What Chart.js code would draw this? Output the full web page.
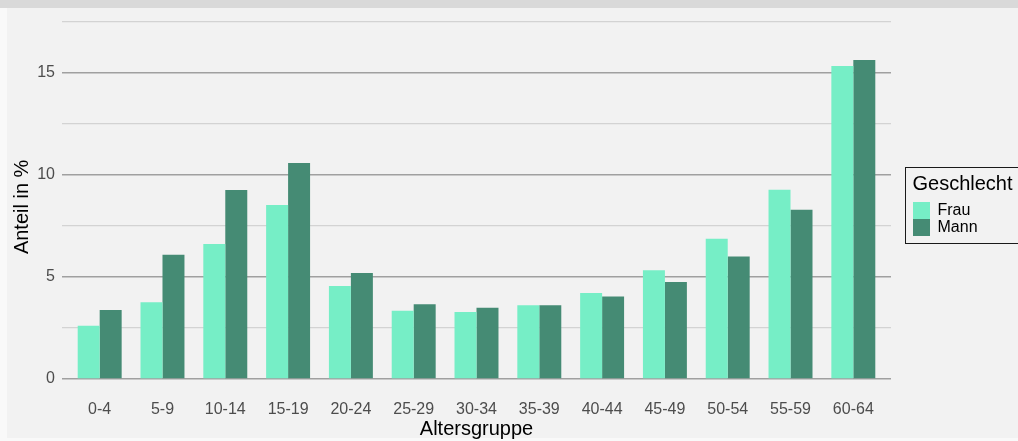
<!DOCTYPE html>
<html>
<head>
<meta charset="utf-8">
<script src="https://cdn.jsdelivr.net/npm/chart.js@4"></script>
<style>
  html, body { margin: 0; padding: 0; width: 1018px; height: 441px; overflow: hidden; background: #f9f9f9; font-family: "Liberation Sans", Arial, sans-serif; }
  #topBand { position: absolute; left: 0; top: 0; width: 1018px; height: 8px; background: #d9d9d9; }
  #panel { position: absolute; left: 7px; top: 8px; width: 1011px; height: 430px; background: #f2f2f2; }
  #wrap { position: absolute; left: 0; top: 0; width: 1018px; height: 441px; }
  #legend { position: absolute; left: 905px; top: 167px; width: 200px; height: 77px; box-sizing: border-box; border: 1.5px solid #1a1a1a; }
  .lg { position: absolute; white-space: nowrap; color: #000; }
  .key { position: absolute; width: 17px; height: 17px; }
</style>
</head>
<body>
<div id="topBand"></div>
<div id="panel"></div>
<div id="wrap"><canvas id="chart" width="1018" height="441"></canvas></div>
<div id="legend"></div>
<script>
// Altersgruppen und Anteile (%) je Geschlecht
const ageGroups = ['0-4', '5-9', '10-14', '15-19', '20-24', '25-29', '30-34', '35-39', '40-44', '45-49', '50-54', '55-59', '60-64'];
const frau = [2.61, 3.76, 6.62, 8.53, 4.56, 3.34, 3.28, 3.62, 4.22, 5.33, 6.88, 9.28, 15.34];
const mann = [3.38, 6.09, 9.26, 10.59, 5.2, 3.67, 3.49, 3.61, 4.04, 4.76, 6.01, 8.3, 15.64];
const yTicks = [0, 2.5, 5, 7.5, 10, 12.5, 15, 17.5];
const seriesNames = ['Frau', 'Mann'];
const seriesColors = ['#76eec6', '#458b74'];

const FONT = '"Liberation Sans", Arial, sans-serif';

const toPoints = arr => arr.map((v, i) => ({ x: i, y: v }));

new Chart(document.getElementById('chart'), {
  type: 'bar',
  data: {
    datasets: [
      { label: seriesNames[0], data: toPoints(frau), backgroundColor: seriesColors[0] },
      { label: seriesNames[1], data: toPoints(mann), backgroundColor: seriesColors[1] }
    ]
  },
  options: {
    responsive: false,
    animation: false,
    events: [],
    layout: { padding: { top: 16.9, left: 0, right: 127, bottom: 0 } },
    datasets: { bar: { categoryPercentage: 0.7, barPercentage: 1, borderWidth: 0 } },
    plugins: { legend: { display: false }, tooltip: { enabled: false } },
    scales: {
      x: {
        type: 'linear',
        offset: false,
        min: -0.6,
        max: 12.6,
        afterBuildTicks: s => { s.ticks = ageGroups.map((_, i) => ({ value: i })); },
        afterFit: s => { s.height = 441 - 396.85; },
        grid: { display: false, drawTicks: false, offset: false },
        border: { display: false },
        ticks: {
          autoSkip: false,
          maxRotation: 0,
          padding: 3,
          color: '#4d4d4d',
          font: { family: FONT, size: 16 },
          callback: v => ageGroups[v]
        },
        title: {
          display: true,
          text: 'Altersgruppe',
          color: '#000',
          font: { family: FONT, size: 20, lineHeight: 1.2 },
          padding: { top: 0, bottom: 0 }
        }
      },
      y: {
        min: -0.875,
        max: 17.75,
        afterBuildTicks: s => { s.ticks = yTicks.map(v => ({ value: v })); },
        afterFit: s => { s.width = 62; },
        grid: {
          drawTicks: false,
          color: c => (c.tick && c.tick.value % 5 === 0) ? '#a0a0a0' : '#d3d3d3',
          lineWidth: c => (c.tick && c.tick.value % 5 === 0) ? 1.6 : 1.2
        },
        border: { display: false },
        ticks: {
          padding: 7,
          color: '#4d4d4d',
          font: { family: FONT, size: 16 },
          callback: v => (v % 5 === 0 ? v : '')
        },
        title: {
          display: true,
          text: 'Anteil in %',
          color: '#000',
          font: { family: FONT, size: 20, lineHeight: 1.2 },
          padding: { top: 10, bottom: 0 }
        }
      }
    }
  }
});

// Legende
const legend = document.getElementById('legend');
const title = document.createElement('span');
title.className = 'lg';
title.textContent = 'Geschlecht';
title.style.cssText = 'left:6.5px;top:5.3px;font-size:20px;line-height:20px;';
legend.appendChild(title);
seriesNames.forEach((name, i) => {
  const key = document.createElement('div');
  key.className = 'key';
  key.style.cssText = `left:6.5px;top:${33.5 + i * 17.5}px;background:${seriesColors[i]};`;
  legend.appendChild(key);
  const lbl = document.createElement('span');
  lbl.className = 'lg';
  lbl.textContent = name;
  lbl.style.cssText = `left:31.5px;top:${34 + i * 17.3}px;font-size:16px;line-height:16px;`;
  legend.appendChild(lbl);
});
</script>
</body>
</html>
